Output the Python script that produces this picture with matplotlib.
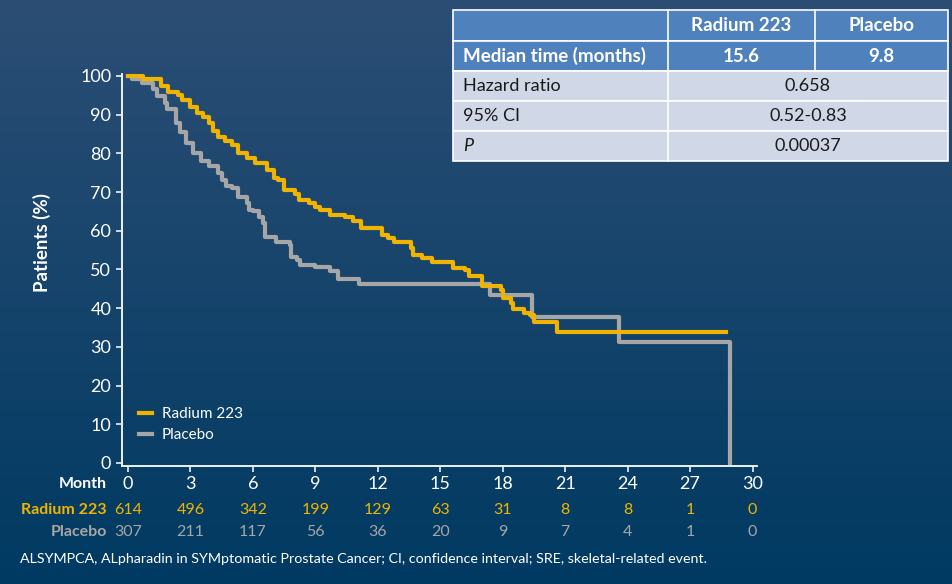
import numpy as np
import matplotlib.pyplot as plt
from matplotlib.patches import Rectangle
from matplotlib.transforms import blended_transform_factory

plt.rcParams['font.family'] = ['Lato', 'DejaVu Sans']

# step curve data (month, % without event)
ra_t = [0, 0.7, 1.6, 1.9, 2.4, 2.6, 3.0, 3.3, 3.6, 3.9, 4.1, 4.3, 4.66, 5.0, 5.3, 5.7,
        6.1, 6.7, 7.0, 7.2, 7.5, 8.0, 8.2, 8.7, 9.0, 9.2, 9.7, 10.4, 10.8, 11.2, 12.2,
        12.5, 12.8, 13.6, 13.7, 14.1, 14.6, 15.6, 16.2, 16.4, 17.0, 17.9, 18.0, 18.4,
        18.5, 19.0, 19.3, 19.5, 20.6, 28.7]
ra_s = [100, 99.2, 97.4, 95.9, 95.1, 93.8, 92.1, 90.4, 89.4, 87.8, 85.8, 84.3, 83.3, 82.2,
        80.1, 78.8, 77.5, 75.6, 73.6, 73.1, 70.5, 69.5, 68.0, 67.2, 66.2, 65.4, 64.1, 63.6,
        62.4, 60.6, 58.9, 58.0, 57.2, 55.5, 53.7, 52.9, 51.8, 50.3, 49.9, 48.4, 45.6, 44.7,
        42.6, 41.3, 39.7, 38.7, 38.2, 36.5, 33.7, 33.7]

pl_t = [0, 0.18, 0.66, 1.2, 1.4, 1.8, 1.86, 2.3, 2.5, 2.8, 3.1, 3.5, 3.9, 4.3, 4.5, 4.7,
        5.0, 5.3, 5.7, 5.8, 6.0, 6.3, 6.5, 6.6, 7.1, 7.8, 7.85, 8.1, 8.26, 9.0, 9.7, 10.1,
        11.1, 17.4, 19.4, 23.6, 28.9]
pl_s = [100, 99.1, 98.2, 96.5, 94.7, 93.0, 91.4, 87.8, 85.5, 82.6, 80.2, 77.9, 76.6, 74.9,
        73.2, 71.5, 71.0, 68.8, 67.1, 65.4, 65.0, 63.5, 61.9, 58.5, 57.2, 56.3, 53.3, 52.5,
        51.2, 50.6, 49.6, 47.5, 46.3, 43.4, 37.6, 31.3, 0]

months = [0, 3, 6, 9, 12, 15, 18, 21, 24, 27, 30]
ra_risk = [614, 496, 342, 199, 129, 63, 31, 8, 8, 1, 0]
pl_risk = [307, 211, 117, 56, 36, 20, 9, 7, 4, 1, 0]

tbl_head = ["", "Radium 223", "Placebo"]
tbl_median = ["Median time (months)", "15.6", "9.8"]
tbl_rows = [("Hazard ratio", "0.658"), ("95% CI", "0.52-0.83"), ("P", "0.00037")]

YELLOW = "#f0b400"
GREY = "#a6a6a6"
W, H = 953, 584

fig = plt.figure(figsize=(W / 100, H / 100), dpi=100)

# background gradient
bg = fig.add_axes([0, 0, 1, 1], zorder=-10)
top = np.array([44, 78, 117]) / 255
bot = np.array([0, 58, 98]) / 255
g = np.linspace(0, 1, 256)[:, None, None]
grad = top * (1 - g) + bot * g
bg.imshow(np.repeat(grad, 2, axis=1), aspect='auto', extent=[0, 1, 0, 1])
bg.axis('off')


def px(x, y):
    return x / W, 1 - y / H


ax = fig.add_axes([121.75 / W, (H - 466) / H, 635 / W, (466 - 74) / H])
ax.patch.set_alpha(0)
ax.step(ra_t, ra_s, where='post', color=YELLOW, lw=3, label="Radium 223", zorder=3)
ax.step(pl_t, pl_s, where='post', color=GREY, lw=3, label="Placebo", zorder=2)
ax.set_xlim(-0.3, 30.2)
ax.set_ylim(-0.8, 100.5)
ax.set_xticks(months)
ax.set_yticks(range(0, 101, 10))
for s in ['top', 'right']:
    ax.spines[s].set_visible(False)
for s in ['left', 'bottom']:
    ax.spines[s].set_color('white')
    ax.spines[s].set_linewidth(1.3)
ax.tick_params(colors='white', labelcolor='white', labelsize=13, length=4, width=1.1)
ax.tick_params(axis='x', pad=3)

leg = ax.legend(loc='upper left', bbox_to_anchor=(0.005, 0.185), frameon=False,
                fontsize=11, handlelength=0.9, handletextpad=0.6, labelspacing=0.45)
for t in leg.get_texts():
    t.set_color('white')

fig.text(*px(42, 243), "Patients (%)", rotation=90, ha='center', va='center',
         color='white', fontsize=13.5, fontweight='bold')

# numbers at risk
tr = blended_transform_factory(ax.transData, fig.transFigure)
fig.text(*px(107, 484), "Month", ha='right', va='center', color='white',
         fontsize=11.5, fontweight='bold')
fig.text(*px(107, 510), "Radium 223", ha='right', va='center', color=YELLOW,
         fontsize=11.5, fontweight='bold')
fig.text(*px(107, 532), "Placebo", ha='right', va='center', color=GREY,
         fontsize=11.5, fontweight='bold')
for m, a, b in zip(months, ra_risk, pl_risk):
    ax.text(m, 1 - 510 / H, str(a), transform=tr, ha='center', va='center',
            color=YELLOW, fontsize=11.5)
    ax.text(m, 1 - 532 / H, str(b), transform=tr, ha='center', va='center',
            color=GREY, fontsize=11.5)

fig.text(*px(20, 559), "ALSYMPCA, ALpharadin in SYMptomatic Prostate Cancer; CI, confidence "
         "interval; SRE, skeletal-related event.", ha='left', va='center',
         color='white', fontsize=10.3)

# summary table
col_x = [453, 668, 815, 948]
row_y = [10, 41, 71, 101, 131, 161]
HEAD = "#4f81bd"
BODY = "#d0d8e8"
for r in range(5):
    y0, y1 = row_y[r], row_y[r + 1]
    fc = HEAD if r < 2 else BODY
    x0, y0f = px(col_x[0], y1)
    fig.add_artist(Rectangle((x0, y0f), (col_x[3] - col_x[0]) / W, (y1 - y0) / H,
                             transform=fig.transFigure, facecolor=fc,
                             edgecolor='white', lw=1.2))
    if r < 2:
        for c in (1, 2):
            fig.add_artist(plt.Line2D([col_x[c] / W] * 2, [1 - y0 / H, 1 - y1 / H],
                                      transform=fig.transFigure, color='white', lw=1.2))
    else:
        fig.add_artist(plt.Line2D([col_x[1] / W] * 2, [1 - y0 / H, 1 - y1 / H],
                                  transform=fig.transFigure, color='white', lw=1.2))

yc = [(row_y[i] + row_y[i + 1]) / 2 for i in range(5)]
for c in (1, 2):
    xc = (col_x[c] + col_x[c + 1]) / 2
    fig.text(*px(xc, yc[0]), tbl_head[c], ha='center', va='center', color='white',
             fontsize=13.5, fontweight='bold')
    fig.text(*px(xc, yc[1]), tbl_median[c], ha='center', va='center', color='white',
             fontsize=13.5, fontweight='bold')
fig.text(*px(463, yc[1]), tbl_median[0], ha='left', va='center', color='white',
         fontsize=13.5, fontweight='bold')
for i, (lab, val) in enumerate(tbl_rows):
    fig.text(*px(463, yc[i + 2]), lab, ha='left', va='center', color='#1a1a1a',
             fontsize=13, style='italic' if lab == "P" else 'normal')
    fig.text(*px((col_x[1] + col_x[3]) / 2, yc[i + 2]), val, ha='center', va='center',
             color='#1a1a1a', fontsize=13)

fig.savefig("out.png", dpi=100)
